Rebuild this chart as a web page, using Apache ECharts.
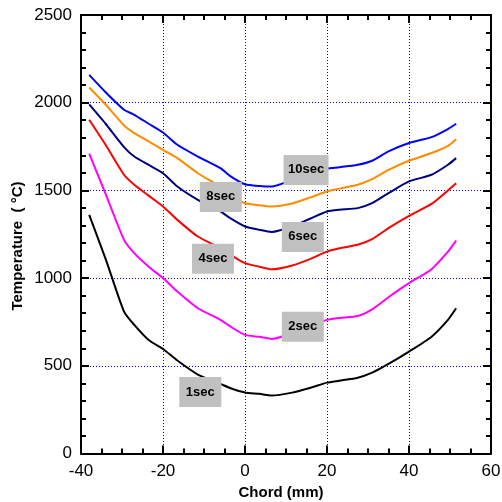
<!DOCTYPE html>
<html>
<head>
<meta charset="utf-8">
<title>Temperature along chord</title>
<script src="https://cdn.jsdelivr.net/npm/echarts@6/dist/echarts.min.js"></script>
<style>
  html, body { margin: 0; padding: 0; background: #fff; }
  #chart { width: 502px; height: 502px; }
</style>
</head>
<body>
<div id="chart"></div>
<script>
// chord positions (mm), shared by every curve
var chord = [-38, -34, -29.5, -27, -23.5, -20, -16.5, -11.5, -6, -3.5, 0, 3.5, 6.5, 11.5, 16, 20, 23, 27.5, 31, 35, 40, 45.5, 49.5, 51.5];

// temperatures (°C)
var t1sec  = [1360, 1110, 809, 733, 647, 596, 530, 450, 397, 372, 348, 340, 330, 347, 375, 404, 415, 432, 461, 511, 581, 666, 762, 828];
var t2sec  = [1709, 1480, 1218, 1142, 1065, 1000, 923, 828, 762, 723, 676, 665, 653, 686, 730, 762, 773, 784, 822, 891, 971, 1051, 1151, 1214];
var t4sec  = [1903, 1760, 1589, 1532, 1470, 1408, 1332, 1237, 1170, 1132, 1085, 1065, 1050, 1072, 1110, 1151, 1170, 1190, 1222, 1285, 1355, 1423, 1500, 1541];
var t6sec  = [1990, 1880, 1747, 1693, 1645, 1598, 1522, 1446, 1380, 1340, 1294, 1275, 1263, 1294, 1340, 1380, 1390, 1399, 1427, 1484, 1551, 1589, 1646, 1684];
var t8sec  = [2087, 1990, 1870, 1827, 1780, 1731, 1684, 1598, 1520, 1470, 1427, 1415, 1408, 1425, 1460, 1494, 1510, 1532, 1564, 1617, 1669, 1713, 1754, 1792];
var t10sec = [2159, 2060, 1960, 1931, 1880, 1830, 1760, 1693, 1627, 1580, 1535, 1525, 1522, 1560, 1600, 1625, 1632, 1646, 1669, 1722, 1770, 1804, 1850, 1880];

var names  = ['1sec', '2sec', '4sec', '6sec', '8sec', '10sec'];
var temps  = [t1sec, t2sec, t4sec, t6sec, t8sec, t10sec];
var colors = ['#000000', '#ff00ff', '#ff0000', '#000080', '#ff8c00', '#0000ff'];
// where the grey name boxes sit, in data coordinates
var tagAt  = [[-10.9, 351], [14.1, 722], [-7.8, 1110], [14.1, 1235], [-5.9, 1463], [14.9, 1617]];

var xTicks = [-40, -20, 0, 20, 40, 60];
var yTicks = [0, 500, 1000, 1500, 2000, 2500];

function pairs(xs, ys) {
  var out = [];
  for (var i = 0; i < xs.length; i++) out.push([xs[i], ys[i]]);
  return out;
}

var font = 'Liberation Sans, Arial, sans-serif';

var series = names.map(function (n, i) {
  return {
    name: n,
    type: 'line',
    data: pairs(chord, temps[i]),
    symbol: 'none',
    smooth: 0.2,
    lineStyle: { color: colors[i], width: 2 },
    itemStyle: { color: colors[i] },
    markPoint: {
      symbol: 'rect',
      symbolSize: [n.length > 4 ? 45 : 42, 30],
      itemStyle: { color: '#c0c0c0' },
      label: {
        show: true, position: 'inside', formatter: n,
        color: '#000', fontWeight: 'bold', fontSize: 13, fontFamily: font
      },
      data: [{ coord: tagAt[i] }]
    }
  };
});

// frame axis; small ticks come from a second axis with a finer interval
// (minorTick flips the ticks outward in v6, so it is not used)
function sideAxis(pos, isX, step, tickLen, withLine) {
  return {
    type: 'value', position: pos,
    min: isX ? xTicks[0] : yTicks[0],
    max: isX ? xTicks[xTicks.length - 1] : yTicks[yTicks.length - 1],
    interval: step,
    axisLine: { show: withLine, onZero: false, lineStyle: { color: '#000', width: 2 } },
    axisTick: { show: true, inside: true, length: tickLen, lineStyle: { color: '#000', width: 2 } },
    axisLabel: { show: false },
    splitLine: { show: false }
  };
}

var gridLine = { show: true, lineStyle: { color: '#0000ee', type: [1, 2], width: 1 } };

var xMain = sideAxis('bottom', true, 20, 8, true);
xMain.axisLabel = { show: true, color: '#000', fontSize: 17, fontFamily: font, margin: 9, formatter: '{value}' };
xMain.splitLine = gridLine;
xMain.name = 'Chord (mm)';
xMain.nameLocation = 'middle';
xMain.nameGap = 32;
xMain.nameTextStyle = { color: '#000', fontWeight: 'bold', fontSize: 15, fontFamily: font, padding: [0, 10, 0, 0] };

var yMain = sideAxis('left', false, 500, 8, true);
yMain.axisLabel = { show: true, color: '#000', fontSize: 17, fontFamily: font, margin: 9, formatter: function (v) { return String(v); } };
yMain.splitLine = gridLine;

var chart = echarts.init(document.getElementById('chart'));
chart.setOption({
  animation: false,
  backgroundColor: '#fff',
  grid: { left: 81, right: 11, top: 15, bottom: 48.5, containLabel: false, outerBoundsMode: 'none' },
  xAxis: [
    xMain,
    sideAxis('top', true, 20, 8, true),
    sideAxis('bottom', true, 5, 5, false),
    sideAxis('top', true, 5, 5, false)
  ],
  yAxis: [
    yMain,
    sideAxis('right', false, 500, 8, true),
    sideAxis('left', false, 100, 5, false),
    sideAxis('right', false, 100, 5, false)
  ],
  graphic: [{
    type: 'text',
    x: 18, y: 246,
    rotation: Math.PI / 2,
    style: {
      text: 'Temperature  ( °C)',
      fill: '#000', font: 'bold 15px ' + font,
      align: 'center', verticalAlign: 'middle'
    }
  }],
  series: series
});
</script>
</body>
</html>
